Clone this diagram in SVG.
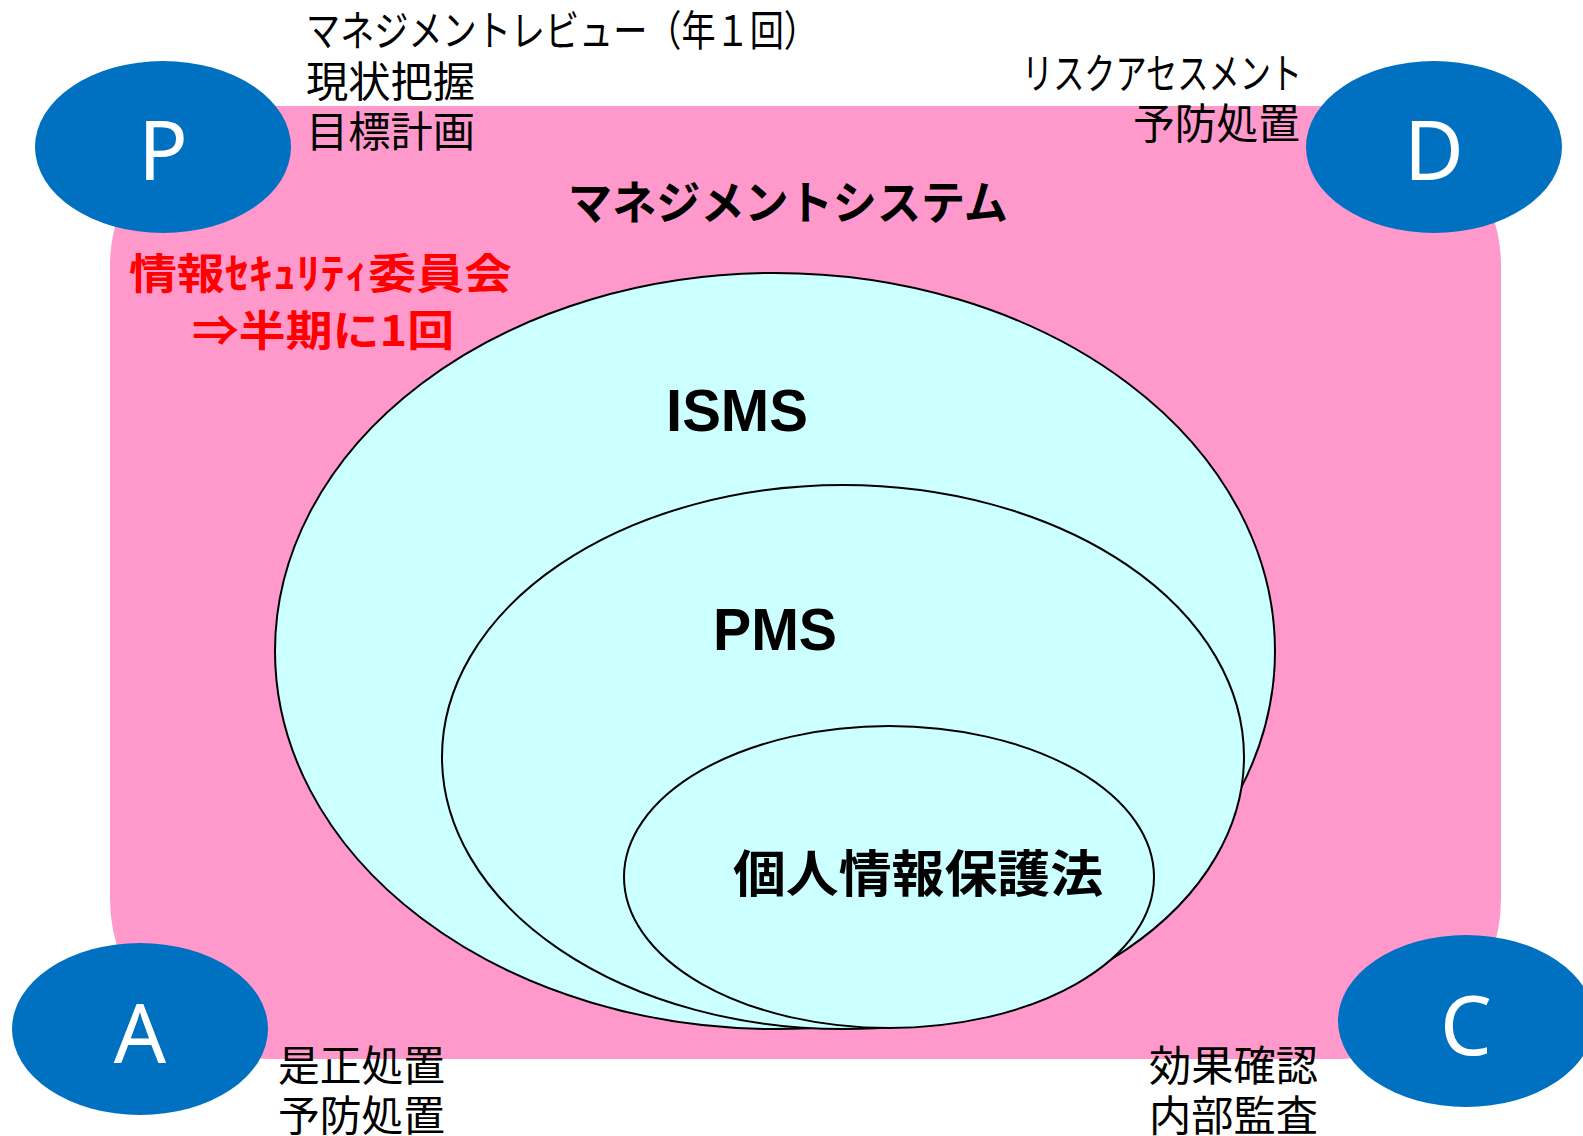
<svg xmlns="http://www.w3.org/2000/svg" width="1583" height="1136" viewBox="0 0 1583 1136">
<style>
.jp{font-family:"Noto Sans CJK JP","Liberation Sans",sans-serif;font-size:42px;fill:#000}
.jpb{font-family:"Noto Sans CJK JP","Liberation Sans",sans-serif;font-weight:bold;fill:#000}
.red{font-family:"Noto Sans CJK JP","Liberation Sans",sans-serif;font-weight:bold;font-size:42px;fill:#FF0000}
.en{font-family:"Liberation Sans",Arial,sans-serif;font-weight:bold;font-size:60px;fill:#000}
.pdca{fill:#0070C0}
.lt{font-family:"Noto Sans","Open Sans",sans-serif;font-size:82px;fill:#fff;text-anchor:middle}
.set{fill:#CCFFFF;stroke:#000;stroke-width:2}
</style>
<g id="system">
<rect x="110" y="106" width="1391" height="953" rx="160" ry="160" fill="#FF99CC"/>
<text class="jpb" x="568" y="219" font-size="46" textLength="440" lengthAdjust="spacingAndGlyphs">マネジメントシステム</text>
<text class="red" x="129" y="289" textLength="383" lengthAdjust="spacingAndGlyphs">情報ｾｷｭﾘﾃｨ委員会</text>
<text class="red" x="192" y="346" textLength="262" lengthAdjust="spacingAndGlyphs">⇒半期に1回</text>
</g>
<g id="isms">
<ellipse class="set" cx="775" cy="651" rx="500" ry="378"/>
<text class="en" x="666" y="431" textLength="142" lengthAdjust="spacingAndGlyphs">ISMS</text>
</g>
<g id="pms">
<ellipse class="set" cx="843" cy="757" rx="401" ry="272"/>
<text class="en" x="713" y="650" textLength="124" lengthAdjust="spacingAndGlyphs">PMS</text>
</g>
<g id="law">
<ellipse class="set" cx="889" cy="877" rx="265" ry="151"/>
<text class="jpb" x="733" y="892" font-size="50" textLength="370" lengthAdjust="spacingAndGlyphs">個人情報保護法</text>
</g>
<g id="P">
<ellipse class="pdca" cx="163" cy="147" rx="128" ry="86"/>
<text class="lt" x="163" y="180">P</text>
<text class="jp" x="306" y="46" textLength="512" lengthAdjust="spacingAndGlyphs">マネジメントレビュー（年１回）</text>
<text class="jp" x="306" y="97" textLength="169" lengthAdjust="spacingAndGlyphs">現状把握</text>
<text class="jp" x="306" y="147" textLength="169" lengthAdjust="spacingAndGlyphs">目標計画</text>
</g>
<g id="D">
<ellipse class="pdca" cx="1434" cy="147" rx="128" ry="86"/>
<text class="lt" x="1434" y="180">D</text>
<text class="jp" x="1022" y="89" textLength="280" lengthAdjust="spacingAndGlyphs">リスクアセスメント</text>
<text class="jp" x="1133" y="139" textLength="167" lengthAdjust="spacingAndGlyphs">予防処置</text>
</g>
<g id="A">
<ellipse class="pdca" cx="140" cy="1029" rx="128" ry="86"/>
<text class="lt" x="140" y="1063">A</text>
<text class="jp" x="278" y="1081" textLength="167" lengthAdjust="spacingAndGlyphs">是正処置</text>
<text class="jp" x="278" y="1131" textLength="167" lengthAdjust="spacingAndGlyphs">予防処置</text>
</g>
<g id="C">
<ellipse class="pdca" cx="1466" cy="1021" rx="128" ry="86"/>
<text class="lt" x="1466" y="1055">C</text>
<text class="jp" x="1149" y="1081" textLength="169" lengthAdjust="spacingAndGlyphs">効果確認</text>
<text class="jp" x="1149" y="1131" textLength="169" lengthAdjust="spacingAndGlyphs">内部監査</text>
</g>
<g id="connectors"/>
</svg>
